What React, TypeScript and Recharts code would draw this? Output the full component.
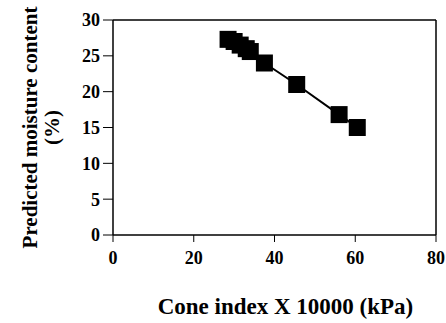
import React from 'react';
import { LineChart, Line, XAxis, YAxis, ReferenceLine } from 'recharts';

const coneIndex = [28.5, 30, 31.5, 33, 34, 37.5, 45.5, 56, 60.5];
const moisture = [27.3, 27.0, 26.5, 26.0, 25.6, 24.0, 21.0, 16.8, 15.0];
const xTicks = [0, 20, 40, 60, 80];
const yTicks = [0, 5, 10, 15, 20, 25, 30];

const data = coneIndex.map((x, i) => ({ x, y: moisture[i] }));

const font = 'Liberation Serif, Times New Roman, serif';

const SquareDot = (props: any) => {
  const { cx, cy, index } = props;
  if (cx == null || cy == null) return <g key={`d-${index}`} />;
  return <rect key={`d-${index}`} x={cx - 8.5} y={cy - 8.5} width={17} height={17} fill="#000" />;
};

const YTitle = (props: any) => {
  const vb = props.viewBox || {};
  const cy = vb.y + vb.height / 2;
  return (
    <text
      transform={`translate(0, ${cy}) rotate(-90)`}
      textAnchor="middle"
      fontFamily={font}
      fontWeight="bold"
      fontSize={21}
      fill="#000"
    >
      <tspan x={0} y={37}>Predicted moisture content</tspan>
      <tspan x={0} y={59}>(%)</tspan>
    </text>
  );
};

const App: React.FC = () => {
  return (
    <div style={{ position: 'absolute', left: 0, top: 0, background: '#fff' }}>
      <LineChart width={446} height={323} data={data} margin={{ top: 20, right: 10, bottom: 0, left: 0 }}>
        <XAxis
          type="number"
          dataKey="x"
          domain={[0, 80]}
          ticks={xTicks}
          height={88}
          axisLine={{ stroke: '#000', strokeWidth: 1.5 }}
          tickLine={{ stroke: '#000' }}
          tickSize={7}
          tickMargin={9}
          tick={{ fill: '#000', fontFamily: font, fontWeight: 'bold', fontSize: 18 }}
          label={{
            value: 'Cone index X 10000 (kPa)',
            position: 'insideBottom',
            offset: 9,
            dx: 11,
            fill: '#000',
            fontFamily: font,
            fontWeight: 'bold',
            fontSize: 23,
          }}
        />
        <YAxis
          type="number"
          domain={[0, 30]}
          ticks={yTicks}
          width={113}
          axisLine={{ stroke: '#000', strokeWidth: 1.5 }}
          tickLine={{ stroke: '#000' }}
          tickSize={10}
          tickMargin={3}
          tick={{ fill: '#000', fontFamily: font, fontWeight: 'bold', fontSize: 18 }}
          label={<YTitle />}
        />
        <ReferenceLine y={30} stroke="#000" strokeWidth={1.5} />
        <ReferenceLine x={80} stroke="#000" strokeWidth={1.5} />
        <Line
          type="linear"
          dataKey="y"
          stroke="#000"
          strokeWidth={2}
          dot={SquareDot}
          activeDot={false}
          isAnimationActive={false}
        />
      </LineChart>
    </div>
  );
};

export default App;
